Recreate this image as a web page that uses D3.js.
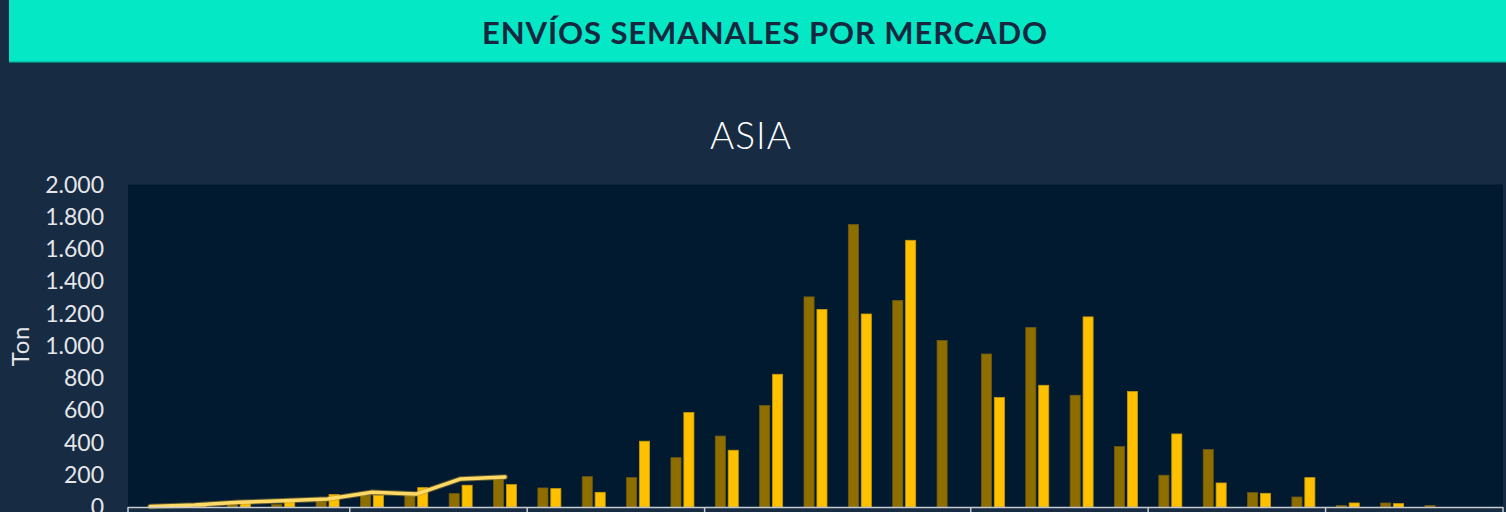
<!DOCTYPE html>
<html>
<head>
<meta charset="utf-8">
<script src="https://cdn.jsdelivr.net/npm/d3@7"></script>
<style>
  html, body { margin: 0; padding: 0; background: #172B42; overflow: hidden; }
  svg { display: block; }
</style>
</head>
<body>
<svg id="chart" width="1506" height="512"></svg>
<script>
// ---- data ----
const headerTitle = "ENVÍOS SEMANALES POR MERCADO";
const chartTitle = "ASIA";
const yAxisLabel = "Ton";
const weeks = ["1","2","3","4","5","6","7","8","9","10","11","12","13","14","15","16",
               "17","18","19","20","21","22","23","24","25","26","27","28","29","30","31"];
const groupSizes = [5, 4, 4, 6, 4, 4, 4];
const previousSeason = [0, 3, 15, 15, 35, 72, 72, 83, 172, 118, 188, 182, 306, 440, 630, 1303,
                        1752, 1280, 1032, 949, 1113, 693, 375, 197, 356, 89, 62, 10, 25, 10, 0];
const currentSeason  = [0, 5, 31, 48, 77, 72, 120, 135, 139, 114, 91, 408, 586, 352, 823, 1225,
                        1197, 1654, 0, 679, 755, 1179, 716, 453, 149, 85, 182, 25, 21, 0, 0];
const lineSeries     = [3, 12, 30, 38, 50, 92, 80, 174, 186];
const yTicks = [0, 200, 400, 600, 800, 1000, 1200, 1400, 1600, 1800, 2000];

// ---- layout ----
const svg = d3.select("#chart");
const W = 1506, H = 512;
const plot = { left: 128, right: 1503, top: 184.5, bottom: 507 };

svg.append("rect").attr("x", 0).attr("y", 0).attr("width", W).attr("height", H).attr("fill", "#172B42");

// header band
svg.append("rect").attr("x", 9).attr("y", 0).attr("width", W - 9).attr("height", 62).attr("fill", "#05E8C5");
svg.append("rect").attr("x", 9).attr("y", 61.5).attr("width", W - 9).attr("height", 1.2).attr("fill", "#0B9C8A");
svg.append("text")
  .attr("x", 765).attr("y", 44)
  .attr("text-anchor", "middle")
  .attr("font-family", "Lato, 'Open Sans', sans-serif")
  .attr("font-weight", 700)
  .attr("font-size", 31)
  .attr("letter-spacing", 0.9)
  .attr("fill", "#16283F")
  .text(headerTitle);

// chart title
svg.append("text")
  .attr("x", 751).attr("y", 149)
  .attr("text-anchor", "middle")
  .attr("font-family", "Lato, sans-serif")
  .attr("font-weight", 300)
  .attr("font-size", 37)
  .attr("letter-spacing", 1)
  .attr("fill", "#FFFFFF")
  .text(chartTitle);

// plot background
svg.append("rect")
  .attr("x", plot.left).attr("y", plot.top)
  .attr("width", plot.right - plot.left).attr("height", plot.bottom - plot.top)
  .attr("fill", "#011A30");

// scales
const x = d3.scaleBand().domain(weeks).range([plot.left, plot.right]).paddingInner(0).paddingOuter(0);
const xInner = d3.scaleBand().domain(["prev", "curr"])
  .range([x.bandwidth() / 2 - 11.5, x.bandwidth() / 2 + 11.5]).paddingInner(0.22).paddingOuter(0);
const y = d3.scaleLinear().domain([0, 2000]).range([plot.bottom, plot.top]);

const loc = d3.formatLocale({ decimal: ",", thousands: ".", grouping: [3], currency: ["$", ""] });
const fmt = loc.format(",d");

// y axis
const yAxis = d3.axisLeft(y).tickValues(yTicks).tickFormat(fmt).tickSize(0).tickPadding(0);
const yg = svg.append("g").attr("transform", `translate(104,0)`).call(yAxis);
yg.select(".domain").remove();
yg.selectAll("text")
  .attr("font-family", "Lato, sans-serif")
  .attr("font-size", 23)
  .attr("fill", "#E4E6EA")
  .attr("dy", "0.33em");

// y label
svg.append("text")
  .attr("transform", `translate(29,346) rotate(-90)`)
  .attr("text-anchor", "middle")
  .attr("font-family", "Lato, sans-serif")
  .attr("font-size", 24)
  .attr("letter-spacing", 0.8)
  .attr("fill", "#E4E6EA")
  .text(yAxisLabel);

// bars
const rows = weeks.map((w, i) => ({ w, prev: previousSeason[i], curr: currentSeason[i] }));
const g = svg.append("g");
const groups = g.selectAll("g.wk").data(rows).join("g").attr("class", "wk")
  .attr("transform", d => `translate(${x(d.w)},0)`);
groups.filter(d => d.prev > 0).append("rect")
  .attr("x", xInner("prev")).attr("width", xInner.bandwidth())
  .attr("y", d => y(d.prev)).attr("height", d => y(0) - y(d.prev))
  .attr("fill", "#8F6E00").attr("stroke", "#6F5A12").attr("stroke-width", 0.8);
groups.filter(d => d.curr > 0).append("rect")
  .attr("x", xInner("curr")).attr("width", xInner.bandwidth())
  .attr("y", d => y(d.curr)).attr("height", d => y(0) - y(d.curr))
  .attr("fill", "#FFC000").attr("stroke", "#C99A08").attr("stroke-width", 0.8);

// line
const line = d3.line()
  .x((d, i) => x(weeks[i]) + x.bandwidth() / 2)
  .y(d => y(d));
svg.append("path").datum(lineSeries)
  .attr("d", line)
  .attr("fill", "none")
  .attr("stroke", "#B8962E").attr("stroke-opacity", 0.5)
  .attr("stroke-width", 5.5).attr("stroke-linecap", "round").attr("stroke-linejoin", "round");
svg.append("path").datum(lineSeries)
  .attr("d", line)
  .attr("fill", "none")
  .attr("stroke", "#FFD966")
  .attr("stroke-width", 3.5).attr("stroke-linecap", "round").attr("stroke-linejoin", "round");

// x axis with group boundary ticks
let acc = 0;
const boundaries = [0];
groupSizes.forEach(s => { acc += s; boundaries.push(acc); });
const bx = boundaries.map(b => b < weeks.length ? x(weeks[b]) : plot.right);
svg.append("line")
  .attr("x1", plot.left).attr("x2", plot.right)
  .attr("y1", plot.bottom + 0.5).attr("y2", plot.bottom + 0.5)
  .attr("stroke", "#C8CCD2").attr("stroke-width", 1.5);
svg.selectAll("line.gtick").data(bx).join("line").attr("class", "gtick")
  .attr("x1", d => d).attr("x2", d => d)
  .attr("y1", plot.bottom).attr("y2", plot.bottom + 12)
  .attr("stroke", "#C8CCD2").attr("stroke-width", 1.5);
</script>
</body>
</html>
